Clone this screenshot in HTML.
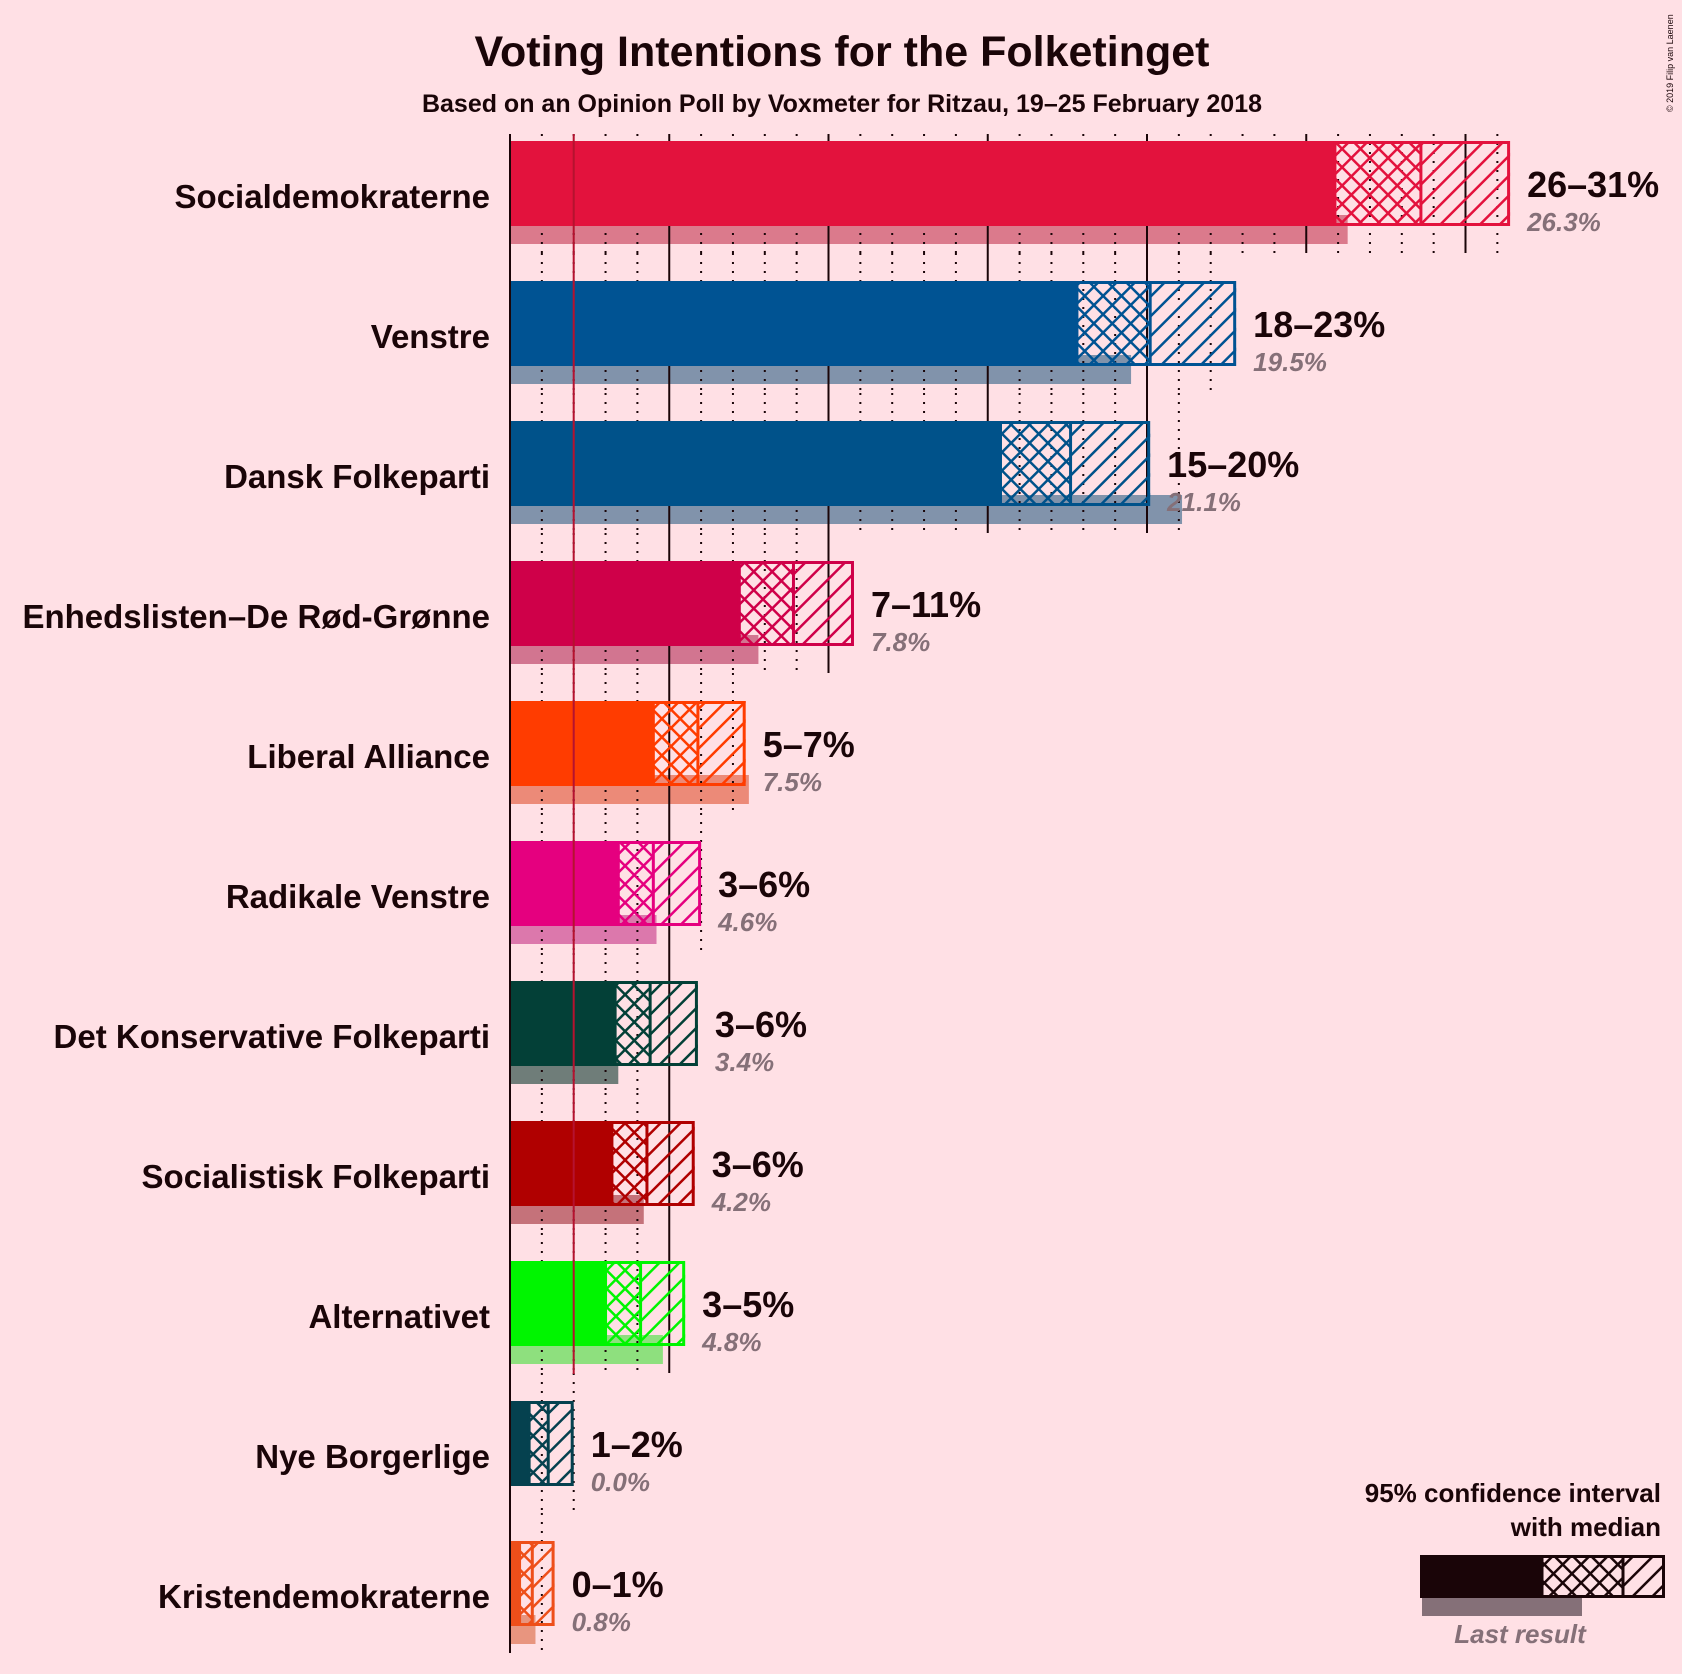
<!DOCTYPE html>
<html><head><meta charset="utf-8"><style>
html,body{margin:0;padding:0;background:#FFE0E5;}
svg{display:block;font-family:"Liberation Sans",sans-serif;}
</style></head><body>
<svg id="chart" width="1682" height="1674" viewBox="0 0 1682 1674" xmlns="http://www.w3.org/2000/svg">
<rect width="1682" height="1674" fill="#FFE0E5"/>
<defs id="defs"></defs>
<text x="842" y="66" text-anchor="middle" font-size="43" font-weight="bold" fill="#1A0508">Voting Intentions for the Folketinget</text>
<text x="842" y="112" text-anchor="middle" font-size="25" font-weight="bold" fill="#1A0508">Based on an Opinion Poll by Voxmeter for Ritzau, 19–25 February 2018</text>
<text transform="translate(1673,112) rotate(-90)" font-size="9" fill="#1A0508">© 2019 Filip van Laenen</text>
<g id="lastbars"></g><g id="grid"></g><g id="bars"></g><g id="labels"></g>
</svg>
<script>
const parties = ["Socialdemokraterne","Venstre","Dansk Folkeparti","Enhedslisten–De Rød-Grønne","Liberal Alliance","Radikale Venstre","Det Konservative Folkeparti","Socialistisk Folkeparti","Alternativet","Nye Borgerlige","Kristendemokraterne"];
const ciLow = [25.9,17.8,15.4,7.2,4.5,3.4,3.3,3.2,3.0,0.6,0.3];
const medians = [28.6,20.1,17.6,8.9,5.9,4.5,4.4,4.3,4.1,1.2,0.7];
const ciHigh = [31.4,22.8,20.1,10.8,7.4,6.0,5.9,5.8,5.5,2.0,1.4];
const lastResult = [26.3,19.5,21.1,7.8,7.5,4.6,3.4,4.2,4.8,0.0,0.8];
const rangeLabels = ["26–31%","18–23%","15–20%","7–11%","5–7%","3–6%","3–6%","3–6%","3–5%","1–2%","0–1%"];
const lastLabels = ["26.3%","19.5%","21.1%","7.8%","7.5%","4.6%","3.4%","4.2%","4.8%","0.0%","0.8%"];
const colors = ["#E3123D","#005393","#00528A","#CF0049","#FF3C00","#E5007F","#034037","#B00000","#00F500","#05414F","#EE4F1A"];
const lastColors = ["#DB7A8C","#8193AB","#8193AB","#D27590","#EC8A78","#DC78AC","#6F7D79","#C5727A","#8EE07E","#708890","#E8957F"];

const NS="http://www.w3.org/2000/svg";
const X0=510, PX=31.85;
const xs=v=>X0+v*PX;
const rowTop=i=>141+i*140;
const BH=85;
function mk(tag,attrs,parent){const e=document.createElementNS(NS,tag);for(const k in attrs)e.setAttribute(k,attrs[k]);parent.appendChild(e);return e;}
const defs=document.getElementById('defs'),grid=document.getElementById('grid'),bars=document.getElementById('bars'),labels=document.getElementById('labels'),lastbars=document.getElementById('lastbars');

function makePatterns(id,c){
  const p1=mk('pattern',{id:'cross'+id,patternUnits:'userSpaceOnUse',width:13,height:13,patternTransform:'rotate(45)'},defs);
  mk('line',{x1:0,y1:0,x2:0,y2:13,stroke:c,'stroke-width':5},p1);
  mk('line',{x1:0,y1:0,x2:13,y2:0,stroke:c,'stroke-width':5},p1);
  const p2=mk('pattern',{id:'hatch'+id,patternUnits:'userSpaceOnUse',width:14,height:14,patternTransform:'rotate(45)'},defs);
  mk('line',{x1:0,y1:0,x2:0,y2:14,stroke:c,'stroke-width':5},p2);
}

parties.forEach((name,i)=>{
  const t=rowTop(i);
  const maxG=Math.floor(Math.max(ciHigh[i],lastResult[i]));
  for(let g=1;g<=maxG;g++){
    const gl=mk('line',{x1:xs(g),x2:xs(g),y1:Math.max(134,t-28),y2:t+112,stroke:'#1A0508','stroke-width':2,'stroke-dasharray':g%5===0?'none':'2,7'},grid);
    
    
  }
  makePatterns(i,colors[i]);
  if(lastResult[i]>0){
    const lr=mk('rect',{x:xs(0),y:t+74,width:xs(lastResult[i])-xs(0),height:29,fill:lastColors[i]},lastbars);
    
    
  }
  const s=mk('rect',{x:xs(0),y:t,width:xs(ciLow[i])-xs(0),height:BH,fill:colors[i]},bars);
  
  
  const c=mk('rect',{x:xs(ciLow[i]),y:t,width:xs(medians[i])-xs(ciLow[i]),height:BH,fill:'url(#cross'+i+')'},bars);
  
  
  const h=mk('rect',{x:xs(medians[i]),y:t,width:xs(ciHigh[i])-xs(medians[i]),height:BH,fill:'url(#hatch'+i+')'},bars);
  
  
  const b=mk('rect',{x:xs(ciLow[i]),y:t+1.5,width:xs(ciHigh[i])-xs(ciLow[i])-1.5,height:BH-3,fill:'none',stroke:colors[i],'stroke-width':3},bars);
  
  
  const m=mk('line',{x1:xs(medians[i]),x2:xs(medians[i]),y1:t,y2:t+BH,stroke:colors[i],'stroke-width':3},bars);
  
  
  const pl=mk('text',{x:490,y:t+67,'text-anchor':'end','font-size':33,'font-weight':'bold',fill:'#1A0508'},labels);
  pl.textContent=name;
  
  
  const rl=mk('text',{x:xs(ciHigh[i])+17,y:t+56,'font-size':36,'font-weight':'bold',fill:'#1A0508'},labels);
  rl.textContent=rangeLabels[i];
  
  
  const ll=mk('text',{x:xs(ciHigh[i])+17,y:t+90,'font-size':26,'font-style':'italic','font-weight':'bold',fill:'#857078'},labels);
  ll.textContent=lastLabels[i];
  
  
});
const ax=mk('line',{x1:X0,x2:X0,y1:134,y2:1653,stroke:'#1A0508','stroke-width':2},labels);


const th=mk('line',{x1:xs(2),x2:xs(2),y1:134,y2:1374,stroke:'#B5122F','stroke-width':2},labels);



const lg=mk('g',{},labels);


const t1=mk('text',{x:1661,y:1502,'text-anchor':'end','font-size':26,'font-weight':'bold',fill:'#1A0508'},lg);t1.textContent='95% confidence interval';
const t2=mk('text',{x:1661,y:1536,'text-anchor':'end','font-size':26,'font-weight':'bold',fill:'#1A0508'},lg);t2.textContent='with median';
makePatterns('L','#1A0508');
mk('rect',{x:1422,y:1598,width:160,height:18,fill:'#857078'},lg);
mk('rect',{x:1420,y:1555,width:122,height:43,fill:'#1A0508'},lg);
mk('rect',{x:1542,y:1555,width:81,height:43,fill:'url(#crossL)'},lg);
mk('rect',{x:1623,y:1555,width:42,height:43,fill:'url(#hatchL)'},lg);
mk('rect',{x:1542,y:1556.5,width:121.5,height:40,fill:'none',stroke:'#1A0508','stroke-width':3},lg);
mk('line',{x1:1623,x2:1623,y1:1555,y2:1598,stroke:'#1A0508','stroke-width':3},lg);
const t3=mk('text',{x:1520,y:1643,'text-anchor':'middle','font-size':26,'font-style':'italic','font-weight':'bold',fill:'#857078'},lg);t3.textContent='Last result';
</script>
</body></html>
